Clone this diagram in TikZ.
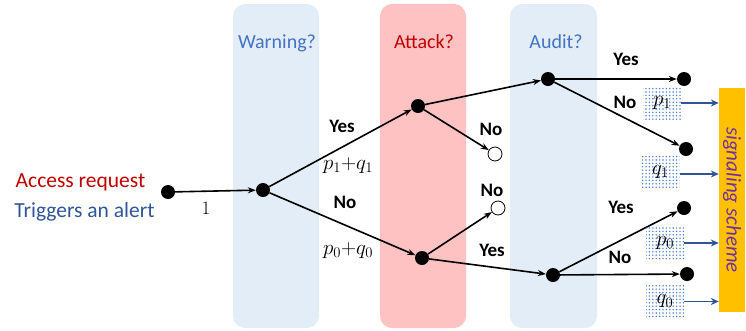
\RequirePackage{fix-cm}
\documentclass[tikz,border=0pt]{standalone}
\usepackage{fontspec}
\setmainfont{Carlito}
\usetikzlibrary{arrows.meta,patterns.meta}
\definecolor{panelblue}{HTML}{E3EDF7}
\definecolor{panelpink}{HTML}{FFC2C2}
\definecolor{warnblue}{HTML}{4472C4}
\definecolor{darkred}{HTML}{C00000}
\definecolor{alertblue}{HTML}{2F5597}
\definecolor{barorange}{HTML}{FFC000}
\definecolor{schemepurple}{HTML}{7030A0}
\definecolor{dotblue}{HTML}{4A7BD0}
\begin{document}
\begin{tikzpicture}[x=1pt,y=-1pt,
  dot/.style={circle,fill=black,inner sep=0pt,minimum size=14pt},
  odot/.style={circle,draw=black,fill=white,line width=0.8pt,inner sep=0pt,minimum size=14pt},
  arr/.style={-{Stealth[length=8pt,width=6pt]},line width=1.6pt},
  barr/.style={-{Stealth[length=8pt,width=7pt]},line width=1.3pt,draw=alertblue},
  lbl/.style={anchor=base,inner sep=0pt,font=\fontsize{19}{22}\selectfont\bfseries},
  mlbl/.style={anchor=base,inner sep=0pt,font=\fontsize{21}{24}\selectfont},
  ttl/.style={anchor=base,inner sep=0pt,font=\fontsize{20}{24}\selectfont},
  pbox/.style={minimum width=38pt,minimum height=33pt,inner sep=0pt,
    pattern={Dots[distance=3.4pt,radius=0.8pt]},pattern color=dotblue,
    font=\fontsize{21}{24}\selectfont},
  panel/.style={rounded corners=12pt,inner sep=0pt,minimum width=86pt,minimum height=324pt},
]
\useasboundingbox (0,0) rectangle (746,330);
% panels
\node[panel,fill=panelblue] (pwarn) at (276,166) {};
\node[panel,fill=panelpink] (pattack) at (423,166) {};
\node[panel,fill=panelblue,minimum width=87pt] (paudit) at (553.5,166) {};
\node[ttl,text=warnblue] (twarn) at (277,48) {Warning?};
\node[ttl,text=darkred] (tattack) at (424,48) {Attack?};
\node[ttl,text=warnblue] (taudit) at (556,48) {Audit?};
% left texts
\node[anchor=base,inner sep=0pt,font=\fontsize{21.5}{24}\selectfont,text=darkred] (access) at (80.5,187) {Access request};
\node[anchor=base,inner sep=0pt,font=\fontsize{21.5}{24}\selectfont,text=alertblue] (trig) at (84.5,217) {Triggers an alert};
% nodes
\node[dot] (start) at (168,192) {};
\node[dot] (warn) at (263,190) {};
\node[dot] (ayes) at (418,106) {};
\node[dot] (ano) at (422,258) {};
\node[odot] (o1) at (495,154) {};
\node[odot] (o2) at (498,208) {};
\node[dot] (uyes) at (548,79) {};
\node[dot] (uno) at (553,275) {};
\node[dot] (t1) at (684,79) {};
\node[dot] (t2) at (686,149) {};
\node[dot] (t3) at (684,208) {};
\node[dot] (t4) at (687,274) {};
% arrows
\draw[arr] (start) -- (warn);
\draw[arr] (warn) -- (ayes);
\draw[arr] (warn) -- (ano);
\draw[arr] (ayes) -- (uyes);
\draw[arr] (ayes) -- (o1);
\draw[arr] (ano) -- (o2);
\draw[arr] (ano) -- (uno);
\draw[arr] (uyes) -- (t1);
\draw[arr] (uyes) -- (t2);
\draw[arr] (uno) -- (t3);
\draw[arr] (uno) -- (t4);
% edge labels
\node[mlbl,font=\fontsize{19}{22}\selectfont] (one) at (206,214) {$1$};
\node[lbl] (lyes1) at (342,132) {Yes};
\node[mlbl] (pq1) at (348,169) {$p_1{+}q_1$};
\node[lbl] (lno1) at (345,208) {No};
\node[mlbl] (pq0) at (348,254) {$p_0{+}q_0$};
\node[lbl] (lno2) at (491,135) {No};
\node[lbl] (lno3) at (492,196) {No};
\node[lbl] (lyes2) at (492,256) {Yes};
\node[lbl] (lyes3) at (626,65) {Yes};
\node[lbl] (lno4) at (625,108) {No};
\node[lbl] (lyes4) at (621,213) {Yes};
\node[lbl] (lno5) at (620,263) {No};
% signaling scheme bar
\node[fill=barorange,minimum width=26pt,minimum height=224pt,inner sep=0pt] (bar) at (732,200) {};
\node[rotate=-90,inner sep=0pt,text=schemepurple,font=\fontsize{21}{24}\selectfont\itshape] (scheme) at (bar.center) {signaling scheme};
% boxes
\node[pbox] (bp1) at (662,103) {$p_1$};
\node[pbox] (bq1) at (660.5,172) {$q_1$};
\node[pbox] (bp0) at (665,243) {$p_0$};
\node[pbox] (bq0) at (665,301.5) {$q_0$};
\draw[barr] (bp1.east) -- (bp1.east -| bar.west);
\draw[barr] ([yshift=-2pt]bq1.east) -- ([yshift=-2pt]bq1.east -| bar.west);
\draw[barr] (bp0.east) -- (bp0.east -| bar.west);
\draw[barr] (bq0.east) -- (bq0.east -| bar.west);
\end{tikzpicture}
\end{document}
